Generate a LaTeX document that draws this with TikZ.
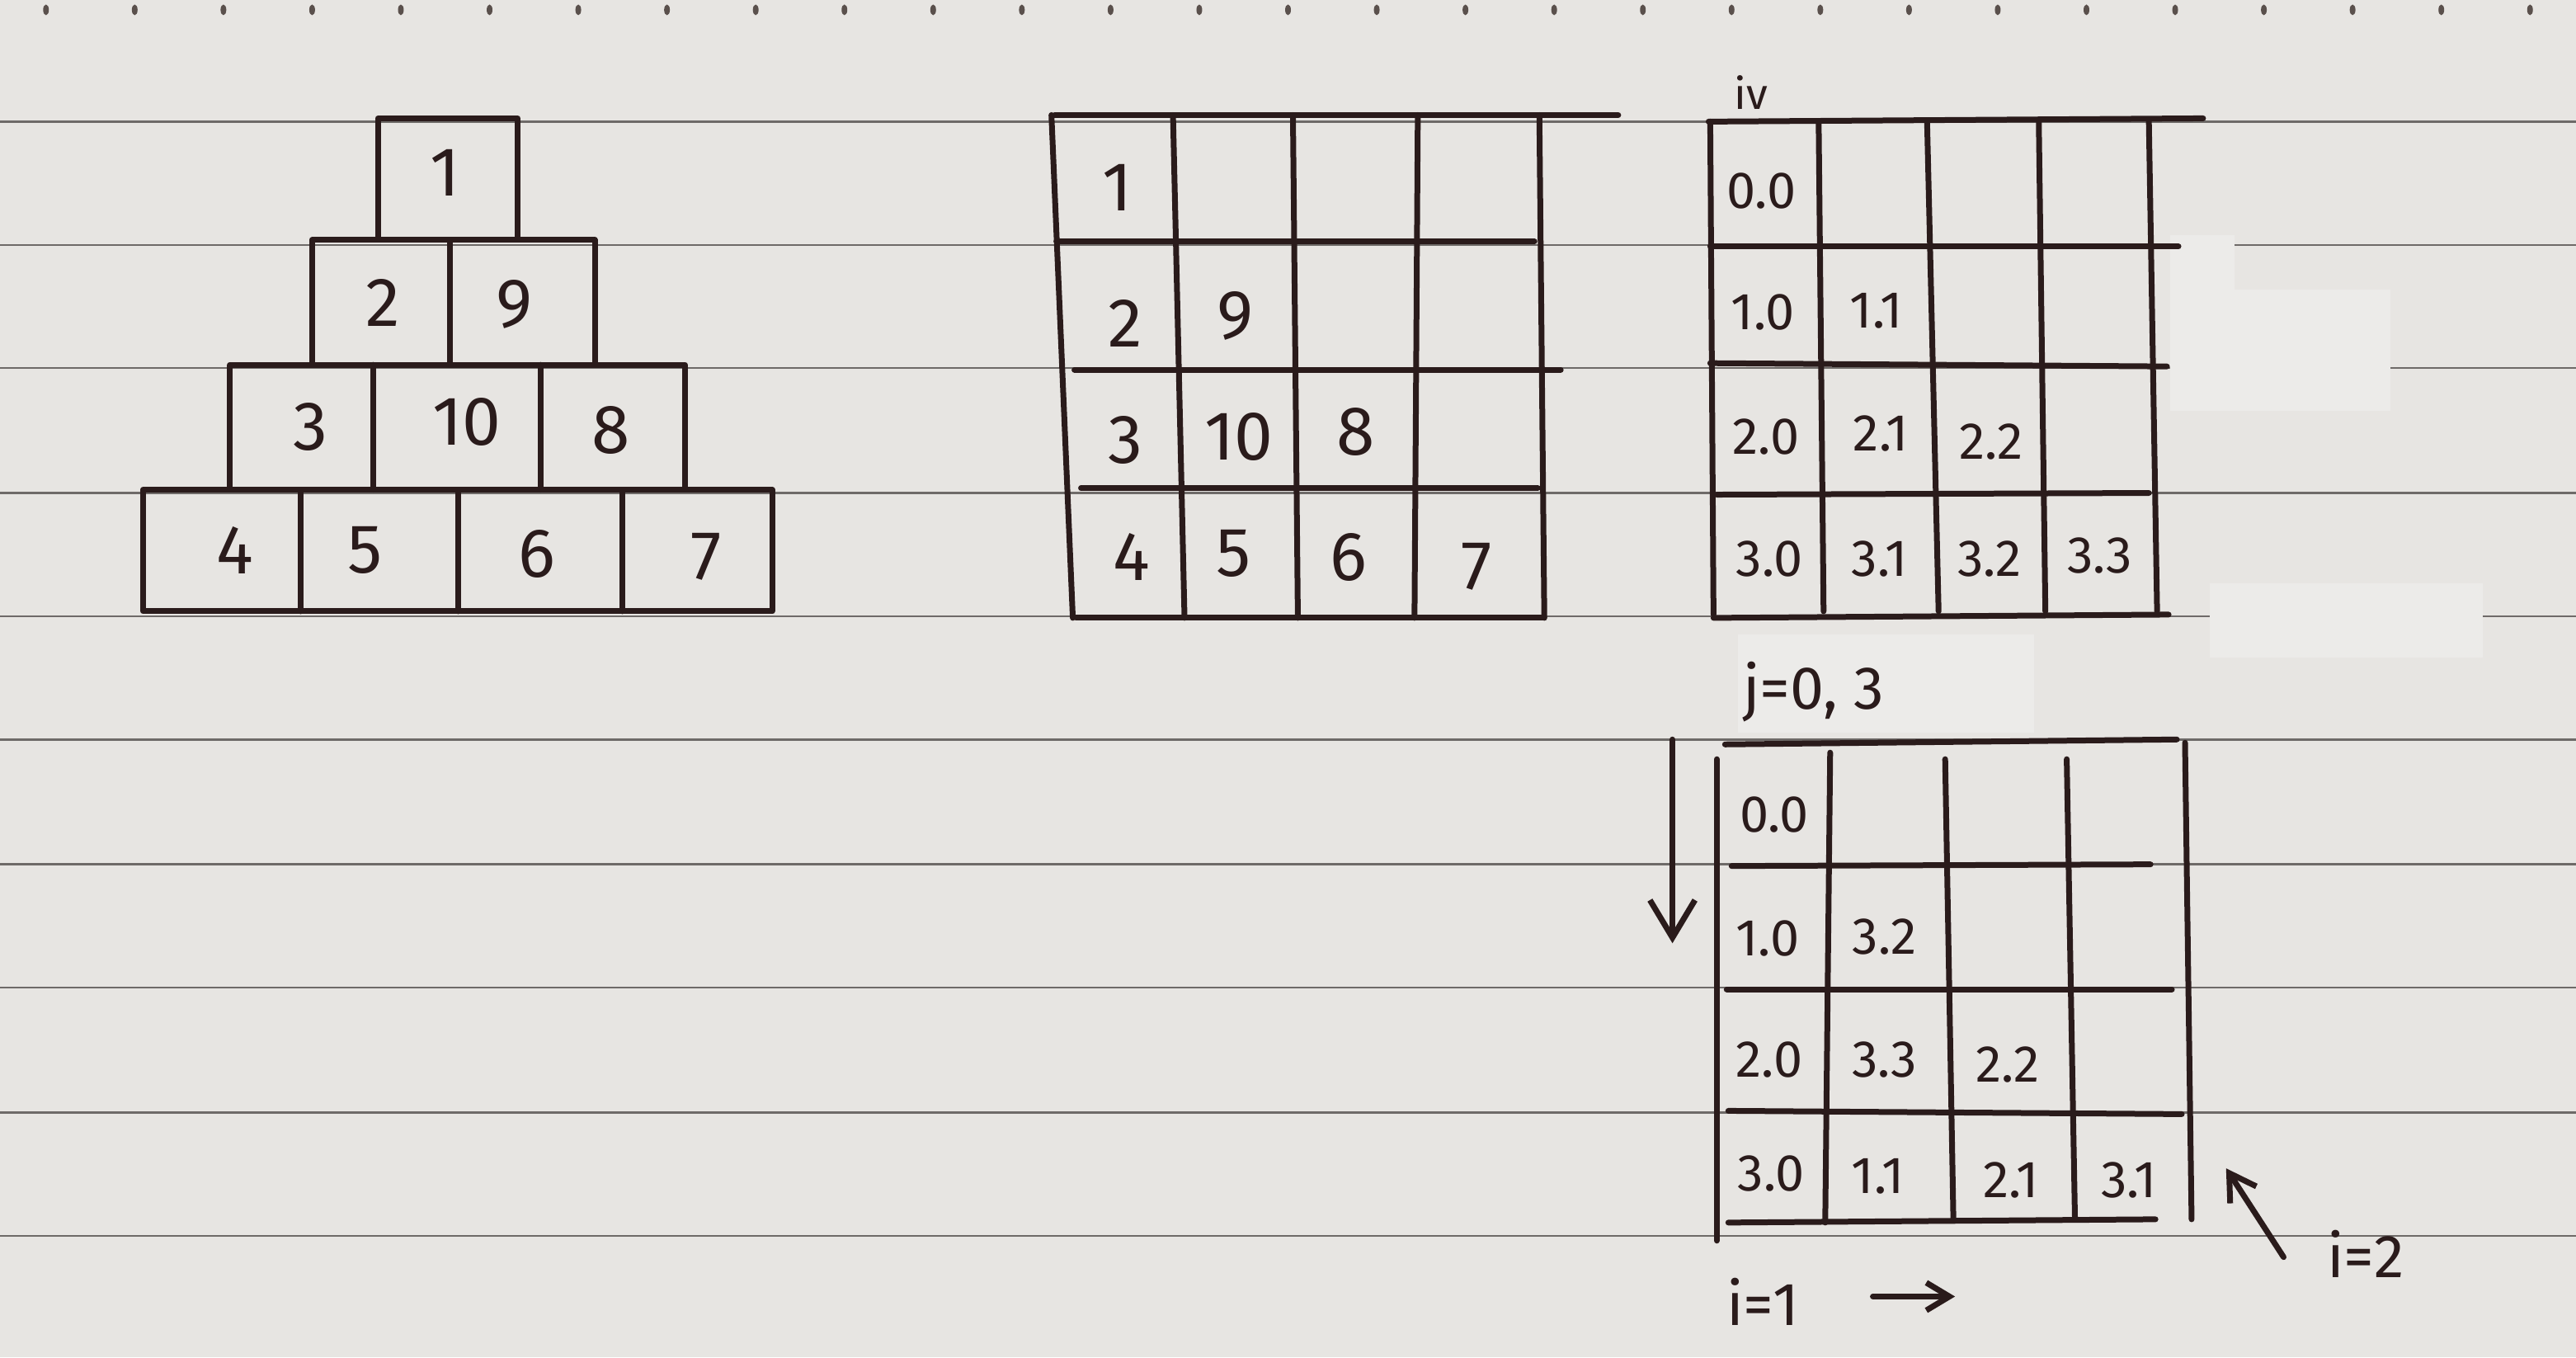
\documentclass[tikz,border=0pt]{standalone}
\usepackage{fontspec}
\setmainfont{Fira Sans}
\usetikzlibrary{arrows.meta}
\definecolor{paper}{HTML}{E7E5E2}
\definecolor{patch}{HTML}{ECEBE9}
\definecolor{rulec}{HTML}{6E6A68}
\definecolor{ink}{HTML}{2A1B1B}
\definecolor{dotc}{HTML}{5A504C}
\tikzset{
  ruleline/.style={draw=rulec, line width=0.7pt},
  inkline/.style={draw=ink, line width=2pt, line cap=round, line join=round},
  bigdig/.style={text=ink, font=\fontsize{24}{24}\selectfont, inner sep=0pt},
  smalldig/.style={text=ink, font=\fontsize{18}{18}\selectfont, inner sep=0pt},
  note/.style={text=ink, font=\fontsize{21}{21}\selectfont, inner sep=0pt},
  barb/.style={-{Straight Barb[length=#1, width=1.2*#1, line width=2pt]}},
}
\begin{document}
\begin{tikzpicture}[x=0.02cm,y=-0.02cm]
\useasboundingbox (0,0) rectangle (1568,826);
\fill[paper] (0,0) rectangle (1568,826);
% ruled lines
\foreach \y in {74,149,224,300,375,450,526,601,677,752}
  \draw[ruleline] (0,\y) -- (1568,\y);
% top dots
\foreach \k in {0,...,28}
  \fill[dotc] (28+54*\k,6) ellipse (0.035cm and 0.065cm);
% light patches
\fill[patch] (1321,143) rectangle (1360,250);
\fill[patch] (1360,176) rectangle (1455,250);
\fill[patch] (1345,355) rectangle (1511,400);
\fill[patch] (1058,386) rectangle (1238,446);

% ---------- pyramid ----------
\draw[inkline] (230,72) rectangle (315,146);
\draw[inkline] (190,146) rectangle (362,222);
\draw[inkline] (274,146) -- (274,222);
\draw[inkline] (140,222) rectangle (417,298);
\draw[inkline] (227,222) -- (227,298);
\draw[inkline] (329,222) -- (329,298);
\draw[inkline] (87,298) rectangle (470,372);
\draw[inkline] (183,298) -- (183,372);
\draw[inkline] (279,298) -- (279,372);
\draw[inkline] (379,298) -- (379,372);
\node[bigdig] (p1) at (271,105) {1};
\node[bigdig] (p2) at (233,184) {2};
\node[bigdig] (p9) at (313,185) {9};
\node[bigdig] (p3) at (189,260) {3};
\node[bigdig] (p10) at (284,257) {10};
\node[bigdig] (p8) at (372,262) {8};
\node[bigdig] (p4) at (143,335) {4};
\node[bigdig] (p5) at (222,335) {5};
\node[bigdig] (p6) at (327,337) {6};
\node[bigdig] (p7) at (430,339) {7};

% ---------- middle grid ----------
\draw[inkline] (642,70) -- (985,70);
\draw[inkline] (640,70) -- (653,376);
\draw[inkline] (714,70) -- (721,376);
\draw[inkline] (787,70) -- (790,376);
\draw[inkline] (863,70) -- (861,376);
\draw[inkline] (937,70) -- (940,376);
\draw[inkline] (643,147) -- (934,147);
\draw[inkline] (654,225) -- (950,225);
\draw[inkline] (658,297) -- (936,297);
\draw[inkline] (655,376) -- (940,376);
\node[bigdig] (m1) at (680,114) {1};
\node[bigdig] (m2) at (685,197) {2};
\node[bigdig] (m9) at (752,192) {9};
\node[bigdig] (m3) at (685,268) {3};
\node[bigdig] (m10) at (754,266) {10};
\node[bigdig] (m8) at (825,263) {8};
\node[bigdig] (m4) at (689,339) {4};
\node[bigdig] (m5) at (751,337) {5};
\node[bigdig] (m6) at (821,339) {6};
\node[bigdig] (m7) at (899,345) {7};

% ---------- right top grid ----------
\node[note, font=\fontsize{15}{15}\selectfont] (iv) at (1066,56) {iv};
\draw[inkline] (1040,74) -- (1341,72);
\draw[inkline] (1041,74) -- (1043,374);
\draw[inkline] (1107,74) -- (1110,372);
\draw[inkline] (1173,74) -- (1180,372);
\draw[inkline] (1241,74) -- (1245,372);
\draw[inkline] (1308,74) -- (1313,372);
\draw[inkline] (1041,150) -- (1326,150);
\draw[inkline] (1041,221) -- (1319,223);
\draw[inkline] (1045,301) -- (1308,300);
\draw[inkline] (1043,376) -- (1320,374);
\node[smalldig] (a00) at (1072,116) {0.0};
\node[smalldig] (a10) at (1073,190) {1.0};
\node[smalldig] (a11) at (1142,189) {1.1};
\node[smalldig] (a20) at (1075,266) {2.0};
\node[smalldig] (a21) at (1145,264) {2.1};
\node[smalldig] (a22) at (1212,269) {2.2};
\node[smalldig] (a30) at (1077,340) {3.0};
\node[smalldig] (a31) at (1144,340) {3.1};
\node[smalldig] (a32) at (1211,340) {3.2};
\node[smalldig] (a33) at (1278,338) {3.3};

% ---------- right bottom grid ----------
\node[note] (jlab) at (1104,421) {j=0, 3};
\draw[inkline] (1050,453) -- (1325,450);
\draw[inkline] (1045,462) -- (1045,755);
\draw[inkline] (1114,458) -- (1111,744);
\draw[inkline] (1184,462) -- (1189,742);
\draw[inkline] (1258,462) -- (1263,742);
\draw[inkline] (1330,452) -- (1334,742);
\draw[inkline] (1054,527) -- (1309,526);
\draw[inkline] (1051,602) -- (1322,602);
\draw[inkline] (1052,676) -- (1328,678);
\draw[inkline] (1052,744) -- (1312,742);
\node[smalldig] (b00) at (1080,496) {0.0};
\node[smalldig] (b10) at (1076,571) {1.0};
\node[smalldig] (b32) at (1147,570) {3.2};
\node[smalldig] (b20) at (1077,645) {2.0};
\node[smalldig] (b33) at (1147,645) {3.3};
\node[smalldig] (b22) at (1222,648) {2.2};
\node[smalldig] (b30) at (1078,714) {3.0};
\node[smalldig] (b11) at (1143,716) {1.1};
\node[smalldig] (b21) at (1224,718) {2.1};
\node[smalldig] (b31) at (1296,718) {3.1};

% arrows and notes
\coordinate (dtop) at (1018,450);
\coordinate (dbot) at (1018,574);
\draw[inkline, barb=13pt] (dtop) -- (dbot);
\node[note] (i1) at (1073,792) {i=1};
\coordinate (r1) at (1140,789);
\coordinate (r2) at (1190,789);
\draw[inkline, barb=8pt] (r1) -- (r2);
\node[note] (i2) at (1440,763) {i=2};
\coordinate (u1) at (1390,765);
\coordinate (u2) at (1355,711);
\draw[inkline, barb=9pt] (u1) -- (u2);
\end{tikzpicture}
\end{document}
